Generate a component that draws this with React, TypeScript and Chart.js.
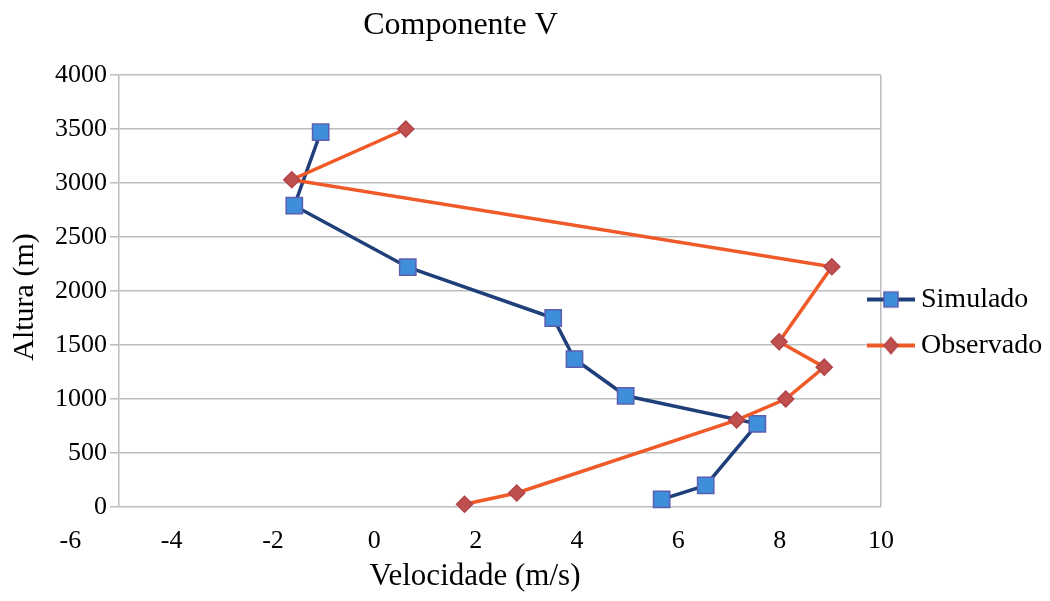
import React, { useEffect, useRef } from "react";
import { Chart, registerables } from "chart.js";

Chart.register(...registerables);

// ---- Data ----
const seriesNames = ["Simulado", "Observado"];
const simuladoVelocidade = [-1.06, -1.58, 0.66, 3.53, 3.95, 4.96, 7.56, 6.54, 5.67];
const simuladoAltura = [3470, 2790, 2220, 1750, 1370, 1030, 770, 200, 70];
const observadoVelocidade = [0.62, -1.63, 9.03, 7.99, 8.88, 8.12, 7.15, 2.81, 1.78];
const observadoAltura = [3500, 3030, 2225, 1530, 1295, 1000, 805, 130, 25];
const xTickValues = [-6, -4, -2, 0, 2, 4, 6, 8, 10];
const yTickStep = 500;
const chartTitle = "Componente V";
const xAxisTitle = "Velocidade (m/s)";
const yAxisTitle = "Altura (m)";

// ---- Styles ----
const FONT = "'Liberation Serif', 'DejaVu Serif', serif";
const GRID = "#BDBDBD";
const SIM_LINE = "#1F3F7A";
const SIM_FILL = "#3E8EDB";
const SIM_EDGE = "#5A5FAF";
const OBS_LINE = "#EF5A28";
const OBS_FILL = "#C0504D";
const OBS_EDGE = "#B0444A";

function makeIcon(line: string, fill: string, edge: string, shape: "rect" | "diamond") {
  const c = document.createElement("canvas");
  c.width = 48;
  c.height = 20;
  const g = c.getContext("2d")!;
  g.strokeStyle = line;
  g.lineWidth = 4;
  g.beginPath();
  g.moveTo(0, 10);
  g.lineTo(48, 10);
  g.stroke();
  g.fillStyle = fill;
  g.strokeStyle = edge;
  g.lineWidth = 1.5;
  g.beginPath();
  if (shape === "rect") {
    g.rect(17, 2.5, 14, 15);
  } else {
    g.moveTo(24, 2);
    g.lineTo(31, 10);
    g.lineTo(24, 18);
    g.lineTo(17, 10);
    g.closePath();
  }
  g.fill();
  g.stroke();
  return c;
}

export default function App() {
  const ref = useRef<HTMLCanvasElement | null>(null);

  useEffect(() => {
    if (!ref.current) return;
    const icons = [
      makeIcon(SIM_LINE, SIM_FILL, SIM_EDGE, "rect"),
      makeIcon(OBS_LINE, OBS_FILL, OBS_EDGE, "diamond"),
    ];

    const tweak = {
      id: "tweak",
      afterLayout(chart: any) {
        const t = chart.titleBlock;
        if (t) {
          t.left += -66;
          t.right += -66;
        }
        const l = chart.legend;
        if (l) {
          l.left += -24;
          l.top += 23;
          l.bottom += 23;
        }
        const sx = chart.scales.x;
        if (sx && !sx.__patched) {
          const orig = sx.drawTitle;
          sx.drawTitle = function () {
            this.ctx.save();
            this.ctx.translate(-25, 0);
            orig.call(this);
            this.ctx.restore();
          };
          sx.__patched = true;
        }
        const sy = chart.scales.y;
        if (sy && !sy.__patched) {
          const orig = sy.drawTitle;
          sy.drawTitle = function () {
            this.ctx.save();
            this.ctx.translate(0, 6);
            orig.call(this);
            this.ctx.restore();
          };
          sy.__patched = true;
        }
      },
    };

    const chart = new Chart(ref.current, {
      type: "scatter",
      data: {
        datasets: [
          {
            label: seriesNames[0],
            data: simuladoVelocidade.map((v, i) => ({ x: v, y: simuladoAltura[i] })),
            showLine: true,
            borderColor: SIM_LINE,
            borderWidth: 3.5,
            pointStyle: "rect",
            pointRadius: 11.5,
            pointHoverRadius: 11.5,
            pointBackgroundColor: SIM_FILL,
            pointBorderColor: SIM_EDGE,
            pointBorderWidth: 1.5,
            clip: false,
            order: 2,
          },
          {
            label: seriesNames[1],
            data: observadoVelocidade.map((v, i) => ({ x: v, y: observadoAltura[i] })),
            showLine: true,
            borderColor: OBS_LINE,
            borderWidth: 3.5,
            pointStyle: "rectRot",
            pointRadius: 8,
            pointHoverRadius: 8,
            pointBackgroundColor: OBS_FILL,
            pointBorderColor: OBS_EDGE,
            pointBorderWidth: 1.5,
            clip: false,
            order: 1,
          },
        ],
      },
      options: {
        animation: false,
        responsive: false,
        devicePixelRatio: 1,
        layout: { padding: { left: 3, right: 0, top: 0, bottom: 2 } },
        plugins: {
          tooltip: { enabled: false },
          title: {
            display: true,
            text: chartTitle,
            color: "#000",
            font: { family: FONT, size: 32, weight: "normal" },
            padding: { top: 6, bottom: 30.6 },
          },
          legend: {
            display: true,
            position: "right",
            align: "center",
            maxWidth: 169,
            labels: {
              usePointStyle: true,
              pointStyleWidth: 32,
              padding: 18,
              color: "#000",
              font: { family: FONT, size: 28 },
              generateLabels: (c: any) => {
                const items = (Chart.defaults.plugins.legend.labels as any).generateLabels(c);
                items.sort((a: any, b: any) => a.datasetIndex - b.datasetIndex);
                items.forEach((it: any) => {
                  it.pointStyle = icons[it.datasetIndex];
                });
                return items;
              },
            },
          },
        },
        scales: {
          x: {
            type: "linear",
            min: -5.04,
            max: 10,
            afterBuildTicks: (s: any) => {
              s.ticks = xTickValues.map((v) => ({ value: v }));
            },
            afterFit: (s: any) => {
              s.height = 92;
            },
            ticks: {
              autoSkip: false,
              maxRotation: 0,
              padding: 19,
              color: "#000",
              font: { family: FONT, size: 26 },
              callback: (v: any) => String(v),
            },
            grid: {
              display: true,
              drawTicks: false,
              lineWidth: 1.5,
              color: (ctx: any) => (ctx.tick && ctx.tick.value === 10 ? GRID : "rgba(0,0,0,0)"),
            },
            border: { display: false },
            title: {
              display: true,
              text: xAxisTitle,
              color: "#000",
              font: { family: FONT, size: 31 },
              padding: { top: 4, bottom: 4 },
            },
          },
          y: {
            type: "linear",
            min: 0,
            max: 4000,
            afterFit: (s: any) => {
              s.width = 116;
            },
            ticks: {
              stepSize: yTickStep,
              padding: 3,
              color: "#000",
              font: { family: FONT, size: 26 },
              callback: (v: any) => String(v),
            },
            grid: {
              color: GRID,
              lineWidth: 1.5,
              tickLength: 9,
            },
            border: { display: true, color: GRID, width: 1.5 },
            title: {
              display: true,
              text: yAxisTitle,
              color: "#000",
              font: { family: FONT, size: 30 },
              padding: { top: 4, bottom: 4 },
            },
          },
        },
      },
      plugins: [tweak],
    } as any);

    return () => chart.destroy();
  }, []);

  return (
    <div style={{ position: "fixed", left: 0, top: 0, width: 1050, height: 601, background: "#fff" }}>
      <canvas ref={ref} width={1050} height={601} style={{ display: "block" }} />
    </div>
  );
}
